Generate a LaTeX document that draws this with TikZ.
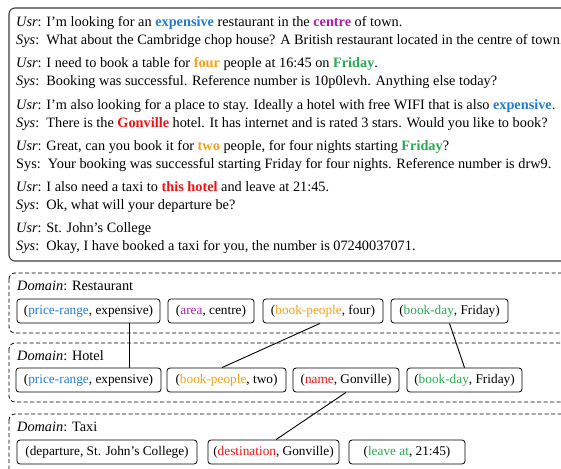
\documentclass[tikz,border=0pt]{standalone}
\usepackage{fontspec}
\setmainfont{Liberation Serif}
\definecolor{cblue}{RGB}{35,125,205}
\definecolor{cpurple}{RGB}{170,30,170}
\definecolor{corange}{RGB}{245,160,20}
\definecolor{cgreen}{RGB}{40,170,80}
\definecolor{cred}{RGB}{235,20,20}
\definecolor{framegray}{RGB}{60,60,60}
\begin{document}
\begin{tikzpicture}[x=1pt,y=-1pt,
  txt/.style={anchor=base west, inner sep=0pt, font=\fontsize{14.3}{16}\selectfont},
  slot/.style={draw, rounded corners=3pt, line width=0.8pt, minimum height=24pt, inner sep=0pt, font=\fontsize{13.3}{15}\selectfont},
  dom/.style={draw, dash pattern=on 4pt off 2.5pt, rounded corners=6pt, line width=0.8pt},
  frame/.style={draw=framegray, rounded corners=6pt, line width=1.1pt},
  link/.style={line width=0.9pt}]
\useasboundingbox (0,0) rectangle (561,468);
\clip (0,0) rectangle (561,468);
% dialogue frame
\draw[frame] (9,8) rectangle (590,261);
\newcommand{\U}{\textit{Usr}: }
\newcommand{\Sy}{\textit{Sys}:\ \ }
\node[txt] (u1) at (16,27) {\U I’m looking for an \textbf{\textcolor{cblue}{expensive}} restaurant in the \textbf{\textcolor{cpurple}{centre}} of town.};
\node[txt] (s1) at (16,45) {\Sy What about the Cambridge chop house? A British restaurant located in the centre of town.};
\node[txt] (u2) at (16,68) {\U I need to book a table for \textbf{\textcolor{corange}{four}} people at 16:45 on \textbf{\textcolor{cgreen}{Friday}}.};
\node[txt] (s2) at (16,86) {\Sy Booking was successful. Reference number is 10p0levh. Anything else today?};
\node[txt] (u3) at (16,109) {\U I’m also looking for a place to stay. Ideally a hotel with free WIFI that is also \textbf{\textcolor{cblue}{expensive}}.};
\node[txt] (s3) at (16,127) {\Sy There is the \textbf{\textcolor{cred}{Gonville}} hotel. It has internet and is rated 3 stars. Would you like to book?};
\node[txt] (u4) at (16,150) {\U Great, can you book it for \textbf{\textcolor{corange}{two}} people, for four nights starting \textbf{\textcolor{cgreen}{Friday}}?};
\node[txt] (s4) at (16,168) {Sys:\ \ Your booking was successful starting Friday for four nights. Reference number is drw9.};
\node[txt] (u5) at (16,191) {\U I also need a taxi to \textbf{\textcolor{cred}{this hotel}} and leave at 21:45.};
\node[txt] (s5) at (16,209) {\Sy Ok, what will your departure be?};
\node[txt] (u6) at (16,232) {\U St. John’s College};
\node[txt] (s6) at (16,250) {\Sy Okay, I have booked a taxi for you, the number is 07240037071.};
% domain boxes
\draw[dom] (9,273) rectangle (590,333);
\draw[dom] (9,343) rectangle (590,402);
\draw[dom] (9,414) rectangle (590,490);
\node[txt] (dr) at (17,290) {\textit{Domain}: Restaurant};
\node[txt] (dh) at (17,360) {\textit{Domain}: Hotel};
\node[txt] (dt) at (17,431) {\textit{Domain}: Taxi};
% restaurant slots
\node[slot, minimum width=143pt] (r1) at (88.5,311) {(\textcolor{cblue}{price-range}, expensive)};
\node[slot, minimum width=86pt] (r2) at (211,311) {(\textcolor{cpurple}{area}, centre)};
\node[slot, minimum width=120pt] (r3) at (323,311) {(\textcolor{corange}{book-people}, four)};
\node[slot, minimum width=117pt] (r4) at (449.5,311) {(\textcolor{cgreen}{book-day}, Friday)};
% hotel slots
\node[slot, minimum width=145pt] (h1) at (88.5,380) {(\textcolor{cblue}{price-range}, expensive)};
\node[slot, minimum width=119pt] (h2) at (226.5,380) {(\textcolor{corange}{book-people}, two)};
\node[slot, minimum width=106pt] (h3) at (346,380) {(\textcolor{cred}{name}, Gonville)};
\node[slot, minimum width=115pt] (h4) at (464.5,380) {(\textcolor{cgreen}{book-day}, Friday)};
% taxi slots
\node[slot, minimum width=180pt] (t1) at (107,452) {(departure, St. John’s College)};
\node[slot, minimum width=131pt] (t2) at (273.5,452) {(\textcolor{cred}{destination}, Gonville)};
\node[slot, minimum width=116pt] (t3) at (407,452) {(\textcolor{cgreen}{leave at}, 21:45)};
% links
\draw[link] ([xshift=40.5pt]r1.south) -- ([xshift=40.5pt]h1.north);
\draw[link] ([xshift=-3pt]r3.south) -- ([xshift=-4.5pt]h2.north);
\draw[link] (r4.south) -- (h4.north);
\draw[link] (h3.south) -- ([xshift=2.5pt]t2.north);
\end{tikzpicture}
\end{document}
